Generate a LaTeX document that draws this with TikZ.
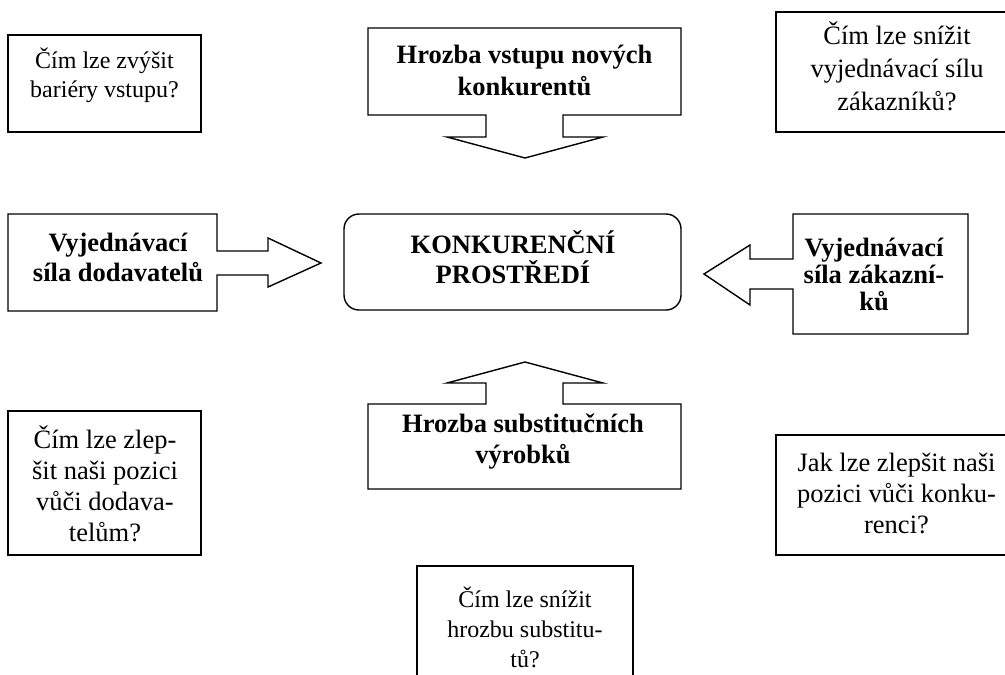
\documentclass[tikz,border=0pt]{standalone}
\usepackage{fontspec}
\setmainfont{Liberation Serif}
\begin{document}
\begin{tikzpicture}[x=1pt,y=-1pt,
  shp/.style={draw=black,line width=1.4pt,line join=miter,fill=white},
  txt/.style={inner sep=0pt,anchor=base,align=center},
  big/.style={font=\fontsize{26.5}{31}\selectfont},
  small/.style={font=\fontsize{24}{29}\selectfont},
  bigb/.style={font=\fontsize{26.5}{31}\selectfont\bfseries}]
\useasboundingbox (0,0) rectangle (1005,675);
\clip (0,0) rectangle (1005,675);
% boxes
\draw[shp] (8,35) rectangle (201,132);
\draw[shp] (776,12) rectangle (1020,132);
\draw[shp] (8,411) rectangle (201,555);
\draw[shp] (776,435) rectangle (1020,555);
\draw[shp] (417,566) rectangle (633,700);
\draw[shp,rounded corners=15pt] (344,214) rectangle (681,310);
% callout arrows
\draw[shp] (368,28) -- (681,28) -- (681,115) -- (563,115) -- (563,137) -- (603,137)
  -- (525,158) -- (447,137) -- (486,137) -- (486,115) -- (368,115) -- cycle;
\draw[shp] (8,214) -- (217,214) -- (217,251) -- (268,251) -- (268,238) -- (321,263)
  -- (268,287) -- (268,275) -- (217,275) -- (217,311) -- (8,311) -- cycle;
\draw[shp] (793,214) -- (968,214) -- (968,334) -- (793,334) -- (793,289) -- (750,289)
  -- (750,305) -- (704,274) -- (750,245) -- (750,259) -- (793,259) -- cycle;
\draw[shp] (525,362) -- (603,383) -- (563,383) -- (563,404) -- (681,404) -- (681,489)
  -- (368,489) -- (368,404) -- (486,404) -- (486,383) -- (447,383) -- cycle;
% texts (anchor = baseline of the last line)
\node[txt,small] (tl) at (104.5,97) {Čím lze zvýšit\\bariéry vstupu?};
\node[txt,font=\fontsize{26.5}{32}\selectfont\bfseries] (tc) at (524.5,95) {Hrozba vstupu nových\\konkurentů};
\node[txt,font=\fontsize{26.5}{33}\selectfont] (tr) at (897,110) {Čím lze snížit\\vyjednávací sílu\\zákazníků?};
\node[txt,font=\fontsize{26.5}{29.5}\selectfont\bfseries] (ml) at (118,281) {Vyjednávací\\síla dodavatelů};
\node[txt,font=\fontsize{26.5}{30}\selectfont\bfseries] (mc) at (513,283) {KONKURENČNÍ\\PROSTŘEDÍ};
\node[txt,font=\fontsize{26.5}{27}\selectfont\bfseries] (mr) at (874,310) {Vyjednávací\\síla zákazní-\\ků};
\node[txt,big] (bl) at (105,541) {Čím lze zlep-\\šit naši pozici\\vůči dodava-\\telům?};
\node[txt,bigb] (bc) at (523,463) {Hrozba substitučních\\výrobků};
\node[txt,font=\fontsize{24}{30}\selectfont] (bb) at (525,667) {Čím lze snížit\\hrozbu substitu-\\tů?};
\node[txt,big] (br) at (896.5,533) {Jak lze zlepšit naši\\pozici vůči konku-\\renci?};
\end{tikzpicture}
\end{document}
